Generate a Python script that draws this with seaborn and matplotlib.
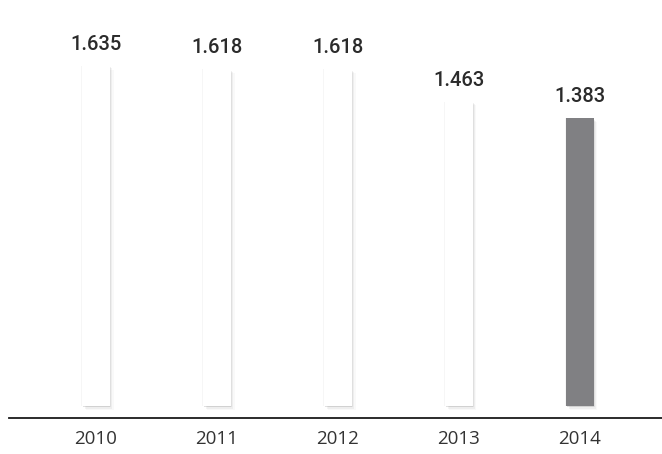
import matplotlib
matplotlib.use("Agg")
import matplotlib.pyplot as plt
import matplotlib.patheffects as pe
import seaborn as sns
import pandas as pd

years = ["2010", "2011", "2012", "2013", "2014"]
values = [1.635, 1.618, 1.618, 1.463, 1.383]
labels = ["1.635", "1.618", "1.618", "1.463", "1.383"]
bar_colors = ["#ffffff", "#ffffff", "#ffffff", "#ffffff", "#808083"]

sns.set_theme(style="white")
plt.rcParams["font.family"] = ["Roboto", "DejaVu Sans"]

df = pd.DataFrame({"year": years, "value": values})

fig = plt.figure(figsize=(6.62, 4.54), dpi=100)
ax = fig.add_axes([9 / 662, 36 / 454, 653 / 662, 418 / 454])

sns.barplot(data=df, x="year", y="value", hue="year",
            palette=dict(zip(years, bar_colors)), width=0.23,
            legend=False, ax=ax, saturation=1, linewidth=0)

# soft drop shadow under each bar
shadow = [
    pe.SimplePatchShadow(offset=(0.4, -0.4), shadow_rgbFace="#000000", alpha=0.06),
    pe.SimplePatchShadow(offset=(1.0, -1.0), shadow_rgbFace="#000000", alpha=0.06),
    pe.SimplePatchShadow(offset=(1.8, -1.8), shadow_rgbFace="#000000", alpha=0.045),
    pe.SimplePatchShadow(offset=(2.6, -2.6), shadow_rgbFace="#000000", alpha=0.025),
    pe.SimplePatchShadow(offset=(-0.5, 0.0), shadow_rgbFace="#000000", alpha=0.035),
    pe.Normal(),
]
for patch in ax.patches:
    patch.set_path_effects(shadow)

for i, (v, lab) in enumerate(zip(values, labels)):
    ax.annotate(lab, (i, v), xytext=(0, 15.5), textcoords="offset points",
                ha="center", va="center", fontsize=14.5, fontweight="medium",
                color="#2b2b2b")

ax.set_xlim(-0.719, 4.678)
ax.set_ylim(-12 / 208, 418 / 208 - 12 / 208)

for side in ["left", "right", "top"]:
    ax.spines[side].set_visible(False)
ax.spines["bottom"].set_color("#1a1a1a")
ax.spines["bottom"].set_linewidth(1.3)

ax.set_yticks([])
ax.set_xlabel("")
ax.set_ylabel("")
ax.tick_params(axis="x", length=0, pad=8.5, labelsize=13.5, labelcolor="#333333")
for t in ax.get_xticklabels():
    t.set_fontfamily(["Open Sans", "DejaVu Sans"])

fig.savefig("out.png", dpi=100, facecolor="white")
